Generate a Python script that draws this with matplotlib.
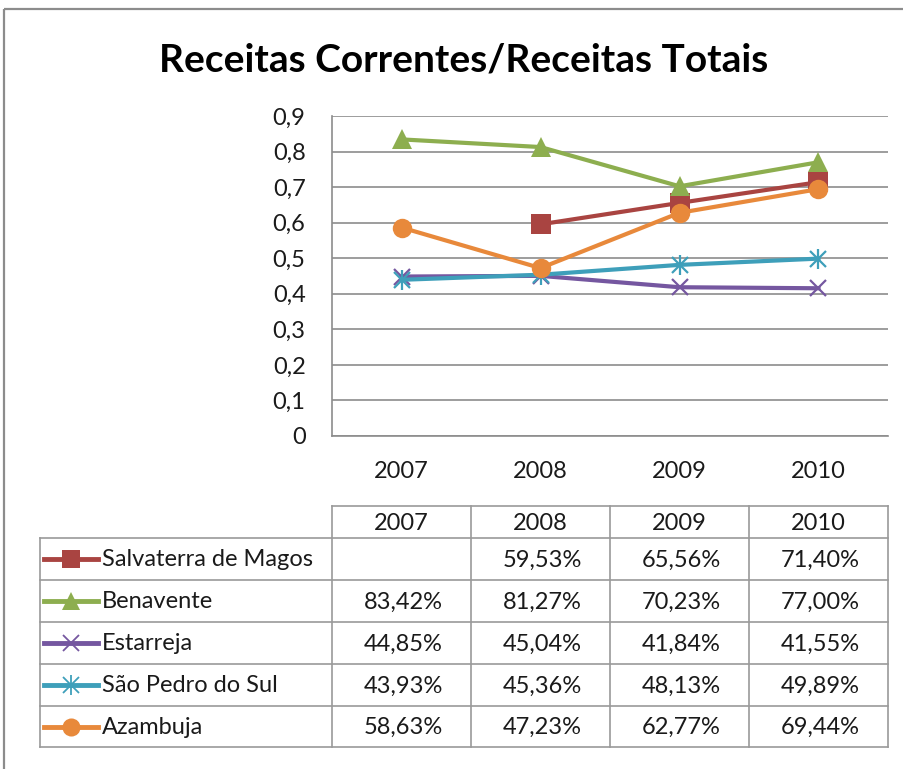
import numpy as np
import matplotlib
matplotlib.use("Agg")
import matplotlib.pyplot as plt
from matplotlib.patches import Rectangle

plt.rcParams['font.family'] = ['Lato', 'DejaVu Sans']

title = "Receitas Correntes/Receitas Totais"
years = ["2007", "2008", "2009", "2010"]
series_names = ["Salvaterra de Magos", "Benavente", "Estarreja", "São Pedro do Sul", "Azambuja"]
salvaterra = [np.nan, 0.5953, 0.6556, 0.7140]
benavente = [0.8342, 0.8127, 0.7023, 0.7700]
estarreja = [0.4485, 0.4504, 0.4184, 0.4155]
sao_pedro = [0.4393, 0.4536, 0.4813, 0.4989]
azambuja = [0.5863, 0.4723, 0.6277, 0.6944]
yticks = [0, 0.1, 0.2, 0.3, 0.4, 0.5, 0.6, 0.7, 0.8, 0.9]

data = [salvaterra, benavente, estarreja, sao_pedro, azambuja]
colors = ["#A94441", "#8DAE4F", "#7557A0", "#3E9FBA", "#E8893B"]
markers = ["s", "^", "x", "x", "o"]

W, H = 904, 769
fig = plt.figure(figsize=(W / 100, H / 100), dpi=100)

# overlay axes in pixel coords
ov = fig.add_axes([0, 0, 1, 1])
ov.set_xlim(0, W)
ov.set_ylim(H, 0)
ov.axis("off")
ov.add_patch(Rectangle((4, 9), W + 20, H + 20, fill=False, ec="#8c8c8c", lw=1.6))

fig.text(464 / W, 1 - 60 / H, title, ha="center", va="center", fontsize=28,
         fontweight="bold", color="black")

fs = 17
tc = "#1a1a1a"

# main chart
L, R, T, B = 332, 888, 116, 436
ax = fig.add_axes([L / W, 1 - B / H, (R - L) / W, (B - T) / H])
x = np.arange(len(years))
for vals, c, m, name in zip(data, colors, markers, series_names):
    v = np.array(vals, dtype=float)
    if name == "São Pedro do Sul":
        ax.plot(x, v, color=c, lw=3, marker="x", ms=12, mew=1.6, zorder=3)
        ax.plot(x, v, color=c, lw=0, marker="|", ms=15, mew=1.6, zorder=3)
    elif m == "x":
        ax.plot(x, v, color=c, lw=3, marker="x", ms=12, mew=1.6, zorder=3)
    else:
        ax.plot(x, v, color=c, lw=3, marker=m, ms=14, mew=0, zorder=3)
ax.set_xlim(-0.5, 3.5)
ax.set_ylim(0, 0.9)
ax.set_yticks(yticks)
ax.set_yticklabels([("%g" % t).replace(".", ",") for t in yticks], fontsize=fs, color=tc)
ax.set_xticks(x)
ax.set_xticklabels(years, fontsize=fs, color=tc)
ax.tick_params(axis="both", length=0)
ax.tick_params(axis="y", pad=19)
ax.tick_params(axis="x", pad=18)
ax.grid(axis="y", color="#8c8c8c", lw=1.2)
ax.set_axisbelow(True)
for s in ["top", "right"]:
    ax.spines[s].set_visible(False)
for s in ["left", "bottom"]:
    ax.spines[s].set_color("#8c8c8c")
    ax.spines[s].set_linewidth(1.2)

# data table
col_x = [L + i * (R - L) / 4 for i in range(5)]
row_y = [506, 538, 580, 622, 664, 706, 747]
lc = "#9a9a9a"
ov.plot([L, R], [row_y[0], row_y[0]], color=lc, lw=1.2)
for yy in row_y[1:]:
    ov.plot([40, R], [yy, yy], color=lc, lw=1.2)
ov.plot([40, 40], [row_y[1], row_y[-1]], color=lc, lw=1.2)
for xx in col_x:
    ov.plot([xx, xx], [row_y[0], row_y[-1]], color=lc, lw=1.2)

for j, yr in enumerate(years):
    ov.text((col_x[j] + col_x[j + 1]) / 2, (row_y[0] + row_y[1]) / 2 + 1, yr,
            ha="center", va="center", fontsize=fs, color=tc)
for i, (vals, c, m, name) in enumerate(zip(data, colors, markers, series_names)):
    yc = (row_y[i + 1] + row_y[i + 2]) / 2
    ov.plot([44, 98], [yc, yc], color=c, lw=3.5)
    if name == "São Pedro do Sul":
        ov.plot([71], [yc], color=c, marker="x", ms=11, mew=1.3, lw=0)
        ov.plot([71], [yc], color=c, marker="|", ms=14, mew=1.3, lw=0)
    elif m == "x":
        ov.plot([71], [yc], color=c, marker="x", ms=11, mew=1.3, lw=0)
    else:
        ov.plot([71], [yc], color=c, marker=m, ms=13, mew=0, lw=0)
    ov.text(102, yc + 1, name, ha="left", va="center", fontsize=fs, color=tc)
    for j, v in enumerate(vals):
        if np.isnan(v):
            continue
        s = ("%.2f%%" % (v * 100)).replace(".", ",")
        ov.text(col_x[j + 1] - 28, yc + 1, s, ha="right", va="center", fontsize=fs, color=tc)

fig.savefig("out.png", dpi=100)
